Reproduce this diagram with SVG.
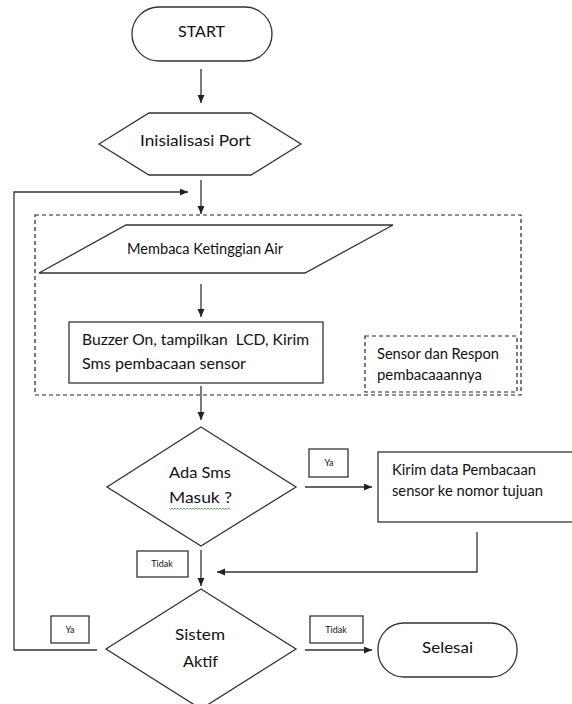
<svg xmlns="http://www.w3.org/2000/svg" width="572" height="704" viewBox="0 0 572 704">
<defs>
<style>
.s{fill:#fff;stroke:#333;stroke-width:1.3}
.d{fill:none;stroke:#222;stroke-width:1.2;stroke-dasharray:4 3}
.c{fill:none;stroke:#333;stroke-width:1.3}
.t{font-family:Lato,"Liberation Sans",sans-serif;font-size:15.5px;fill:#111;white-space:pre}
.m{text-anchor:middle}
.sm{font-family:Lato,"Liberation Sans",sans-serif;font-size:9px;fill:#111;text-anchor:middle}
</style>
<marker id="ah" markerUnits="userSpaceOnUse" markerWidth="9" markerHeight="8" refX="8" refY="3.5" orient="auto">
<path d="M0,0 L8,3.5 L0,7 z" fill="#222"/>
</marker>
</defs>
<rect width="572" height="704" fill="#fff"/>
<g id="connectors">
<line class="c" x1="201" y1="69" x2="201" y2="103" marker-end="url(#ah)"/>
<line class="c" x1="201" y1="180" x2="201" y2="214" marker-end="url(#ah)"/>
<polyline class="c" points="97,650 14,650 14,192 188,192" marker-end="url(#ah)"/>
<line class="c" x1="201" y1="284" x2="201" y2="317" marker-end="url(#ah)"/>
<line class="c" x1="201" y1="386" x2="201" y2="420" marker-end="url(#ah)"/>
<line class="c" x1="305" y1="487" x2="372" y2="487" marker-end="url(#ah)"/>
<polyline class="c" points="477,532 477,572 217,572" marker-end="url(#ah)"/>
<line class="c" x1="201" y1="550" x2="201" y2="586" marker-end="url(#ah)"/>
<line class="c" x1="305" y1="650" x2="372" y2="650" marker-end="url(#ah)"/>
</g>
<g id="start">
<rect class="s" x="132" y="7" width="140" height="54" rx="27"/>
<text class="t m" x="201.5" y="37" style="font-size:16px" textLength="47" lengthAdjust="spacingAndGlyphs">START</text>
</g>
<g id="init">
<polygon class="s" points="99,144 149,113 251,113 301,144 251,175 149,175"/>
<text class="t m" x="195.5" y="146" style="font-size:16px" textLength="111" lengthAdjust="spacingAndGlyphs">Inisialisasi Port</text>
</g>
<g id="group-sensor">
<rect class="d" x="35" y="215" width="486" height="180"/>
</g>
<g id="read">
<polygon class="s" points="126,225 393,225 305,273 39,273"/>
<text class="t" x="127" y="254" textLength="156" lengthAdjust="spacingAndGlyphs">Membaca Ketinggian Air</text>
</g>
<g id="buzzer">
<rect class="s" x="69" y="322" width="254" height="61"/>
<text class="t" x="82" y="345" xml:space="preserve" textLength="227" lengthAdjust="spacingAndGlyphs">Buzzer On, tampilkan  LCD, Kirim</text>
<text class="t" x="82" y="369" textLength="164" lengthAdjust="spacingAndGlyphs">Sms pembacaan sensor</text>
</g>
<g id="sensor-label">
<rect class="d" x="365" y="336" width="152" height="56"/>
<text class="t" x="377" y="359" textLength="122" lengthAdjust="spacingAndGlyphs">Sensor dan Respon</text>
<text class="t" x="377" y="380" textLength="105" lengthAdjust="spacingAndGlyphs">pembacaaannya</text>
</g>
<g id="decision-sms">
<polygon class="s" points="201,427 296,487 201,546 107,487"/>
<text class="t" x="169" y="478" style="font-size:16px" textLength="62" lengthAdjust="spacingAndGlyphs">Ada Sms</text>
<text class="t" x="169" y="503" style="font-size:16px" textLength="63" lengthAdjust="spacingAndGlyphs">Masuk ?</text>
<path d="M169,508 l1.5,1.5 l1.5,-1.5 l1.5,1.5 l1.5,-1.5 l1.5,1.5 l1.5,-1.5 l1.5,1.5 l1.5,-1.5 l1.5,1.5 l1.5,-1.5 l1.5,1.5 l1.5,-1.5 l1.5,1.5 l1.5,-1.5 l1.5,1.5 l1.5,-1.5 l1.5,1.5 l1.5,-1.5 l1.5,1.5 l1.5,-1.5 l1.5,1.5 l1.5,-1.5 l1.5,1.5 l1.5,-1.5 l1.5,1.5 l1.5,-1.5 l1.5,1.5 l1.5,-1.5 l1.5,1.5 l1.5,-1.5 l1.5,1.5 l1.5,-1.5 l1.5,1.5 l1.5,-1.5 l1.5,1.5 l1.5,-1.5 l1.5,1.5 l1.5,-1.5 l1.5,1.5 l1.5,-1.5 l1.5,1.5" fill="none" stroke="#3a9a3a" stroke-width="0.8"/>
</g>
<g id="label-ya-1">
<rect class="s" x="309" y="449" width="39" height="28"/>
<text class="sm" x="329" y="466">Ya</text>
</g>
<g id="kirim">
<rect class="s" x="378" y="452" width="200" height="70"/>
<text class="t" x="392" y="475" textLength="144" lengthAdjust="spacingAndGlyphs">Kirim data Pembacaan</text>
<text class="t" x="392" y="496" textLength="151" lengthAdjust="spacingAndGlyphs">sensor ke nomor tujuan</text>
</g>
<g id="label-tidak-1">
<rect class="s" x="137" y="551" width="51" height="26"/>
<text class="sm" x="162" y="567">Tidak</text>
</g>
<g id="decision-aktif">
<polygon class="s" points="201,589 296,649 201,709 106,649"/>
<text class="t m" x="200" y="640" style="font-size:16px" textLength="50" lengthAdjust="spacingAndGlyphs">Sistem</text>
<text class="t m" x="200.5" y="667" style="font-size:16px" textLength="35" lengthAdjust="spacingAndGlyphs">Aktif</text>
</g>
<g id="label-ya-2">
<rect class="s" x="51" y="616" width="38" height="27"/>
<text class="sm" x="70" y="633">Ya</text>
</g>
<g id="label-tidak-2">
<rect class="s" x="310" y="616" width="53" height="27"/>
<text class="sm" x="336" y="633">Tidak</text>
</g>
<g id="selesai">
<rect class="s" x="378" y="623" width="139" height="54" rx="26"/>
<text class="t m" x="447.5" y="653" style="font-size:16px" textLength="51" lengthAdjust="spacingAndGlyphs">Selesai</text>
</g>
</svg>
